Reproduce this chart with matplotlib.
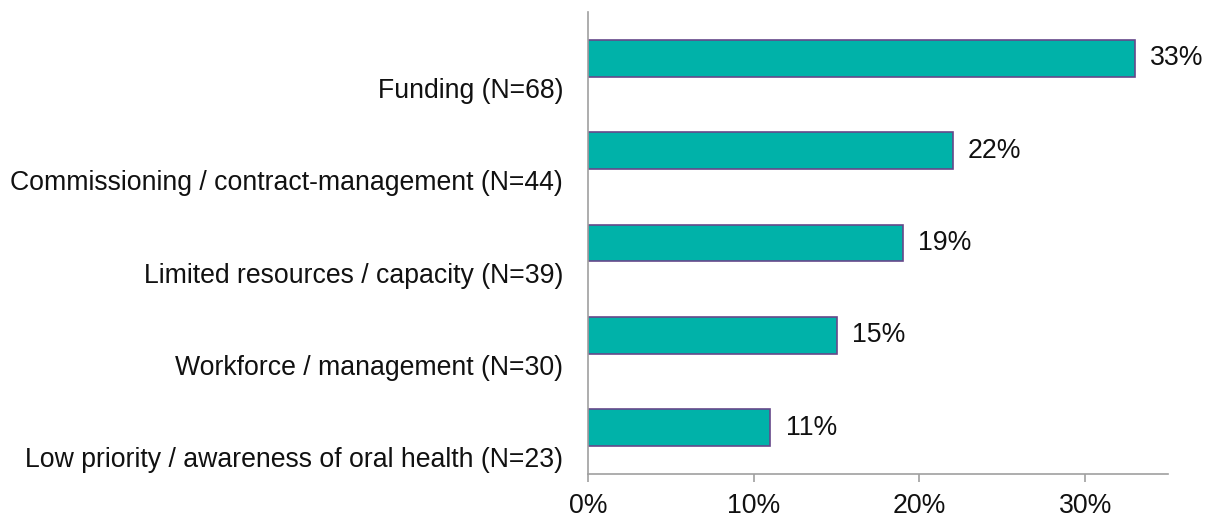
import matplotlib
matplotlib.use("Agg")
import matplotlib.pyplot as plt
from matplotlib.ticker import FuncFormatter

categories = [
    "Funding (N=68)",
    "Commissioning / contract-management (N=44)",
    "Limited resources / capacity (N=39)",
    "Workforce / management (N=30)",
    "Low priority / awareness of oral health (N=23)",
]
values = [33, 22, 19, 15, 11]
xticks = [0, 10, 20, 30]

plt.rcParams['font.family'] = ['Liberation Sans', 'DejaVu Sans']
FS = 19.2

fig = plt.figure(figsize=(12.05, 5.17), dpi=100)
ax = fig.add_axes([0.488, 0.0832, 0.9693 - 0.488, 0.9768 - 0.0832])

n = len(categories)
ypos = [n - 1 - i for i in range(n)]
ax.barh(ypos, values, height=0.4, color="#00B2A9", edgecolor="#66488A", linewidth=1.2)

for y, v in zip(ypos, values):
    ax.annotate(f"{v}%", xy=(v, y), xytext=(11, 0), textcoords="offset points",
                va="center", ha="left", fontsize=FS, color="#111111")

ax.set_xlim(0, 35)
ax.set_ylim(-0.5, n - 0.5)
ax.set_xticks(xticks)
ax.xaxis.set_major_formatter(FuncFormatter(lambda x, p: f"{x:.0f}%"))
ax.set_yticks([y - 0.32 for y in ypos])
ax.set_yticklabels(categories)
ax.tick_params(axis="y", length=0, pad=18, labelsize=FS, labelcolor="#111111")
ax.tick_params(axis="x", length=6, width=1.2, color="#A0A0A0", pad=8, labelsize=FS, labelcolor="#111111")

for s in ["top", "right"]:
    ax.spines[s].set_visible(False)
for s in ["left", "bottom"]:
    ax.spines[s].set_color("#A0A0A0")
    ax.spines[s].set_linewidth(1.2)

fig.savefig("out.png", dpi=100)
